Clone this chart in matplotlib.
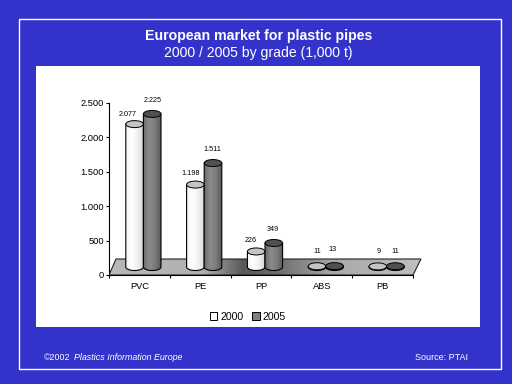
import numpy as np
import matplotlib
matplotlib.use('Agg')
import matplotlib.pyplot as plt
from matplotlib.colors import LinearSegmentedColormap
from matplotlib.patches import Rectangle, Polygon, Ellipse, Patch

plt.rcParams['font.family'] = ['Liberation Sans', 'DejaVu Sans']

grades = ['PVC', 'PE', 'PP', 'ABS', 'PB']
values_2000 = [2077, 1198, 226, 11, 9]
values_2005 = [2225, 1511, 349, 13, 11]
labels_2000 = ['2.077', '1.198', '226', '11', '9']
labels_2005 = ['2.225', '1.511', '349', '13', '11']
y_ticks = [0, 500, 1000, 1500, 2000, 2500]
y_tick_labels = ['0', '500', '1.000', '1.500', '2.000', '2.500']

W, H = 512, 384
BLUE = '#3333cc'
fig = plt.figure(figsize=(W / 100, H / 100), dpi=100, facecolor=BLUE)


def fx(px):
    return px / W


def fy(py):
    return 1 - py / H


# white frame line and white panel, kept behind the axes
fig.add_artist(Rectangle((fx(18.5), fy(368.5)), 482 / W, 350 / H, transform=fig.transFigure,
                         fill=False, edgecolor='white', linewidth=1, zorder=-2))
fig.add_artist(Rectangle((fx(36), fy(327)), 444 / W, 261 / H, transform=fig.transFigure,
                         facecolor='white', edgecolor='none', zorder=-1))

fig.text(fx(258.5), fy(36), 'European market for plastic pipes', color='white', fontsize=10.2,
         fontweight='bold', ha='center', va='center')
fig.text(fx(258.5), fy(53), '2000 / 2005 by grade (1,000 t)', color='white', fontsize=10.1,
         ha='center', va='center')
fig.text(fx(44), fy(357.5), '©2002', color='white', fontsize=6.4, va='center')
fig.text(fx(73.5), fy(357.5), 'Plastics Information Europe', color='white', fontsize=6.4,
         style='italic', va='center')
fig.text(fx(415), fy(357.5), 'Source: PTAI', color='white', fontsize=6.5, va='center')

# chart axes: 60.8 px per category, 172 px for 2500
px_x = 60.8
px_y = 172 / 2500
xmax = 5.2
ymin = -300
ax = fig.add_axes([fx(109), fy(275 - ymin * px_y), xmax * px_x / W, (2500 - ymin) * px_y / H])
ax.patch.set_alpha(0)
ax.set_xlim(0, xmax)
ax.set_ylim(ymin, 2500)

for s in ['top', 'right']:
    ax.spines[s].set_visible(False)
ax.spines['bottom'].set_position(('data', 0))
ax.spines['bottom'].set_bounds(0, 5)
ax.spines['left'].set_bounds(0, 2500)
ax.set_yticks(y_ticks)
ax.set_yticklabels(y_tick_labels, fontsize=6.7)
ax.set_xticks(range(6))
ax.set_xticklabels([])
ax.set_xticks(np.arange(5) + 0.5, grades, minor=True, fontsize=6.7)
ax.tick_params(axis='x', which='minor', length=0, pad=5)
ax.tick_params(axis='x', which='major', length=2, width=0.8)
ax.tick_params(axis='y', which='major', length=2, width=0.8, pad=1.5)

# floor with the dark patch behind PE / PP
floor = Polygon([(0, 0), (7 / px_x, 16 / px_y), (5 + 8 / px_x, 16 / px_y), (5, 0)], closed=True,
                facecolor='none', edgecolor='#222222', linewidth=0.8, zorder=2)
ax.add_patch(floor)
floor_cmap = LinearSegmentedColormap.from_list('floor', [(0, '#b8b8b8'), (0.3, '#b0b0b0'), (0.43, '#585858'),
                                                         (0.55, '#707070'), (0.72, '#a8a8a8'), (1, '#c0c0c0')])
im = ax.imshow(np.linspace(0, 1, 256).reshape(1, -1), cmap=floor_cmap, aspect='auto',
               extent=(0, 5 + 8 / px_x, 0, 16 / px_y), zorder=1.5)
im.set_clip_path(floor)

cyl_w = 17.6 / px_x
base = 8 / px_y
cap_h = 7 / px_y
cmap_2000 = LinearSegmentedColormap.from_list('c2000', ['#f4f4f4', '#ffffff', '#f0f0f0', '#d4d4d4'])
cmap_2005 = LinearSegmentedColormap.from_list('c2005', ['#6a6a6a', '#8c8c8c', '#7c7c7c', '#585858'])


def cylinder(x0, value, cmap, cap_colour, z):
    t = np.linspace(np.pi, 2 * np.pi, 40)
    xc = x0 + cyl_w / 2
    bottom_x = xc + cyl_w / 2 * np.cos(t)
    bottom_y = base + cap_h / 2 * np.sin(t)
    top_y = base + value
    xs = np.r_[bottom_x, x0 + cyl_w, x0]
    ys = np.r_[bottom_y, top_y, top_y]
    body = Polygon(np.c_[xs, ys], closed=True, facecolor='none', edgecolor='black', linewidth=0.8, zorder=z + 0.2)
    ax.add_patch(body)
    im = ax.imshow(np.linspace(0, 1, 64).reshape(1, -1), cmap=cmap, aspect='auto', vmin=0, vmax=1,
                   extent=(x0, x0 + cyl_w, base - cap_h, top_y), zorder=z)
    im.set_clip_path(body)
    ax.add_patch(Ellipse((xc, top_y), cyl_w, cap_h, facecolor=cap_colour, edgecolor='black',
                         linewidth=0.7, zorder=z + 0.3))


label_dx_2000 = [-7, -5, -5, 0, 1]
label_dy_2000 = [10, 11, 11, 15, 15]
label_dx_2005 = [0, -1, -1, -2, 0]
label_dy_2005 = [13, 14, 13, 17, 15]

for i in range(len(grades)):
    x0 = i + 0.5 + 4 / px_x - cyl_w
    cylinder(x0, values_2000[i], cmap_2000, '#c4c4c4', 3)
    cylinder(x0 + cyl_w, values_2005[i], cmap_2005, '#505050', 4)
    ax.annotate(labels_2000[i], (x0 + cyl_w / 2, base + values_2000[i]),
                xytext=(label_dx_2000[i] * 0.72, label_dy_2000[i] * 0.72), textcoords='offset points',
                ha='center', va='center', fontsize=5.2, zorder=6)
    ax.annotate(labels_2005[i], (x0 + 1.5 * cyl_w, base + values_2005[i]),
                xytext=(label_dx_2005[i] * 0.72, label_dy_2005[i] * 0.72), textcoords='offset points',
                ha='center', va='center', fontsize=5.2, zorder=6)

ax.set_xlim(0, xmax)
ax.set_ylim(ymin, 2500)

handles = [Patch(facecolor='white', edgecolor='black', linewidth=0.7, label='2000'),
           Patch(facecolor='#808080', edgecolor='black', linewidth=0.7, label='2005')]
fig.legend(handles=handles, loc='center', bbox_to_anchor=(fx(248), fy(316.5)), ncols=2, frameon=False,
           fontsize=7.6, handlelength=0.7, handleheight=0.7, handletextpad=0.3, columnspacing=0.85,
           borderpad=0, borderaxespad=0)

fig.savefig('out.png', dpi=100, facecolor=fig.get_facecolor())
